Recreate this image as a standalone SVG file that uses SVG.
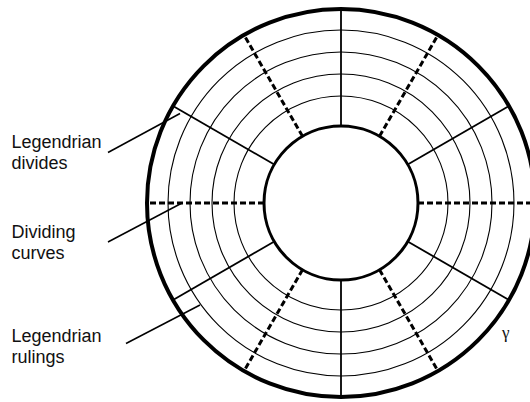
<svg xmlns="http://www.w3.org/2000/svg" width="530" height="402" viewBox="0 0 530 402">
<style>
.thin{fill:none;stroke:#000;stroke-width:1.1}
.solid{stroke:#000;stroke-width:1.8;fill:none}
.dash{stroke:#000;stroke-width:3;stroke-dasharray:6 3;fill:none}
.lead{stroke:#000;stroke-width:1.5;fill:none}
.lbl{font-family:"Liberation Sans",Arial,sans-serif;font-size:18px;fill:#111}
</style>
<rect width="530" height="402" fill="#fff"/>
<g id="rings">
<circle class="thin" cx="341" cy="203" r="107"/>
<circle class="thin" cx="341" cy="203" r="129"/>
<circle class="thin" cx="341" cy="203" r="151"/>
<circle class="thin" cx="341" cy="203" r="173"/>
</g>
<g id="connectors">
<line class="dash" x1="418" y1="203" x2="535" y2="203"/>
<line class="solid" x1="407.7" y1="164.5" x2="509" y2="106"/>
<line class="dash" x1="379.5" y1="136.3" x2="438" y2="35"/>
<line class="solid" x1="341" y1="126" x2="341" y2="9"/>
<line class="dash" x1="302.5" y1="136.3" x2="244" y2="35"/>
<line class="solid" x1="274.3" y1="164.5" x2="173" y2="106"/>
<line class="dash" x1="264" y1="203" x2="147" y2="203"/>
<line class="solid" x1="274.3" y1="241.5" x2="173" y2="300"/>
<line class="dash" x1="302.5" y1="269.7" x2="244" y2="371"/>
<line class="solid" x1="341" y1="280" x2="341" y2="397"/>
<line class="dash" x1="379.5" y1="269.7" x2="438" y2="371"/>
<line class="solid" x1="407.7" y1="241.5" x2="509" y2="300"/>
<line class="lead" x1="108" y1="152.5" x2="180" y2="113.5"/>
<line class="lead" x1="108" y1="242" x2="182" y2="203"/>
<line class="lead" x1="126" y1="343.5" x2="200" y2="305"/>
</g>
<g id="inner">
<circle cx="341" cy="203" r="77" fill="#fff" stroke="#000" stroke-width="3"/>
</g>
<g id="outer">
<circle cx="341" cy="203" r="194" fill="none" stroke="#000" stroke-width="4"/>
</g>
<g id="label-divides">
<text class="lbl" x="11.5" y="147.5">Legendrian</text>
<text class="lbl" x="11.5" y="169">divides</text>
</g>
<g id="label-curves">
<text class="lbl" x="11.5" y="237.5">Dividing</text>
<text class="lbl" x="11.5" y="258.5">curves</text>
</g>
<g id="label-rulings">
<text class="lbl" x="11.5" y="342">Legendrian</text>
<text class="lbl" x="11.5" y="363">rulings</text>
</g>
<g id="gamma">
<text x="502" y="337.5" font-family="'Liberation Serif','Times New Roman',serif" font-size="17" fill="#111">γ</text>
</g>
</svg>
